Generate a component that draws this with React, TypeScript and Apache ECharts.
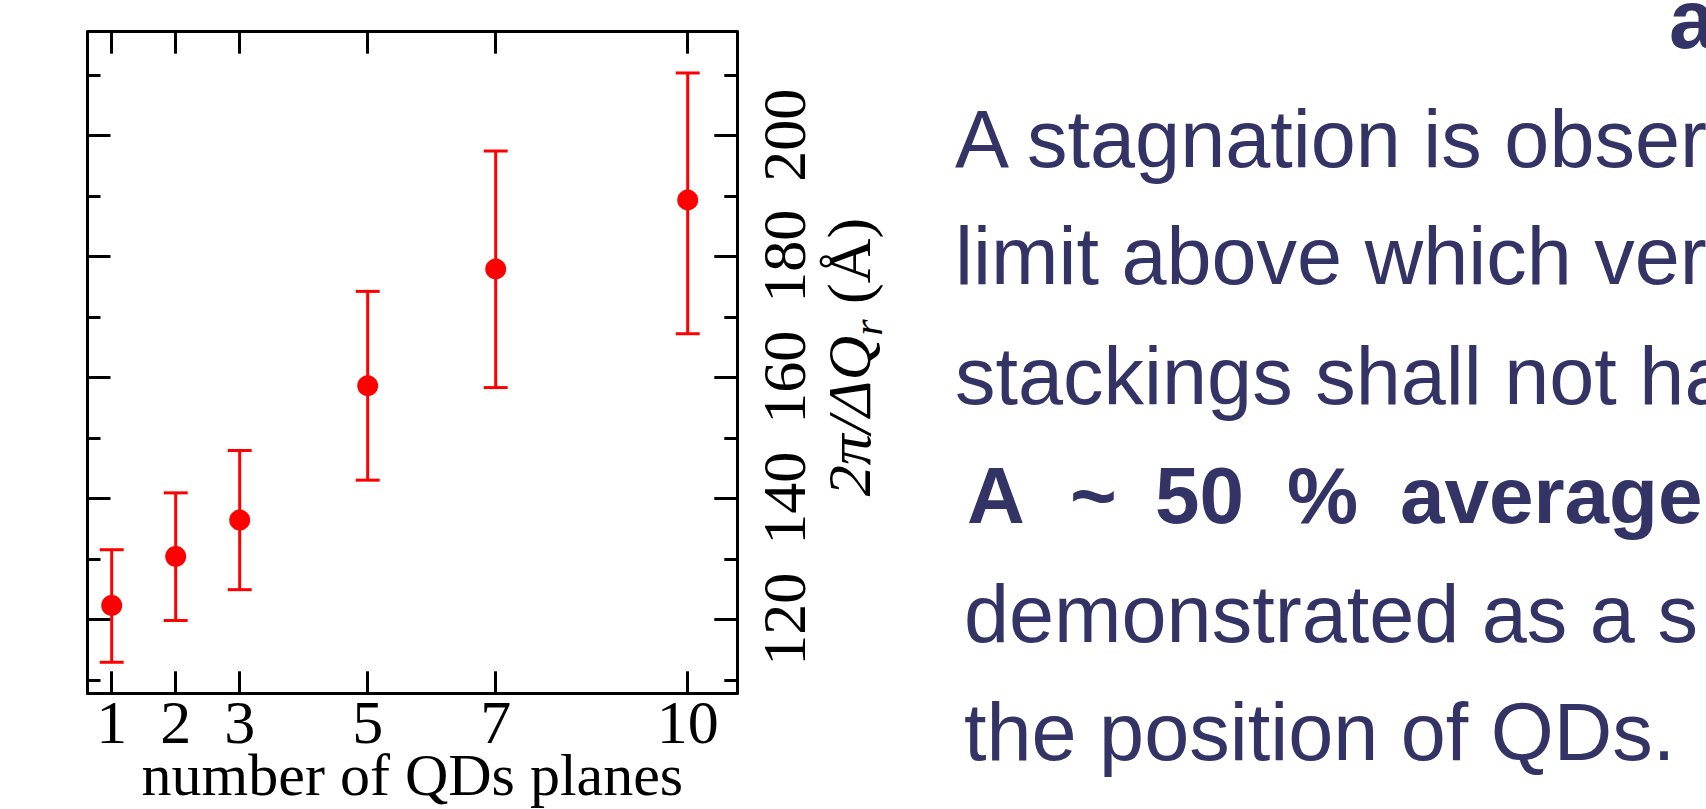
import React, { useEffect, useRef } from "react";
import * as echarts from "echarts";

// ---- data ----
const planes = [1, 2, 3, 5, 7, 10];
const period = [122.3, 130.4, 136.4, 158.6, 177.9, 189.3];
const errLow = [112.9, 119.8, 124.9, 143.0, 158.3, 167.2];
const errHigh = [131.5, 140.9, 147.9, 174.2, 197.4, 210.3];

const xTicks = [1, 2, 3, 5, 7, 10];
const yMajorTicks = [120, 140, 160, 180, 200];
const yMinorTicks = [110, 130, 150, 170, 190, 210];

const xName = "number of QDs planes";
const yName = "{i|2π/ΔQ}{s|r}{n| (Å)}";

const paragraphLines = [
  "A stagnation is obser",
  "limit above which ver",
  "stackings shall not ha",
];
const boldWords = ["A", "~", "50", "%", "average"];
const tailLines = ["demonstrated as a s", "the position of QDs."];
const headerFragment = "a";

const SERIF = "'Liberation Serif', 'Times New Roman', serif";
const SANS = "'Liberation Sans', Arial, sans-serif";
const NAVY = "#333366";

export default function App() {
  const ref = useRef<HTMLDivElement | null>(null);

  useEffect(() => {
    if (!ref.current) return;
    const chart = echarts.init(ref.current, undefined, { renderer: "svg" });

    const yMin = 107.77;
    const yMax = 217.12;
    const xMin = 0.622;
    const xMax = 10.775;

    const axisLineStyle = { color: "#000", width: 3 };

    const yBase = (position: string, ticks: number[], len: number, showLine: boolean, showLabel: boolean) => ({
      type: "value",
      position,
      min: yMin,
      max: yMax,
      offset: 0,
      axisLine: { show: showLine, onZero: false, lineStyle: axisLineStyle },
      axisTick: {
        show: true,
        inside: true,
        length: len,
        customValues: ticks,
        lineStyle: { color: "#000", width: 3 },
      },
      axisLabel: showLabel
        ? {
            show: true,
            customValues: yMajorTicks,
            rotate: 90,
            margin: 22,
            color: "#000",
            fontFamily: SERIF,
            fontSize: 62,
            lineHeight: 50,
          }
        : { show: false },
      splitLine: { show: false },
    });

    const xBase = (position: string, showLabel: boolean) => ({
      type: "value",
      position,
      min: xMin,
      max: xMax,
      axisLine: { show: true, onZero: false, lineStyle: axisLineStyle },
      axisTick: {
        show: true,
        inside: true,
        length: 22,
        customValues: xTicks,
        lineStyle: { color: "#000", width: 3 },
      },
      axisLabel: showLabel
        ? {
            show: true,
            customValues: xTicks,
            margin: 7,
            color: "#000",
            fontFamily: SERIF,
            fontSize: 62,
            lineHeight: 44,
          }
        : { show: false },
      splitLine: { show: false },
    });

    const xBottom: any = xBase("bottom", true);
    xBottom.name = xName;
    xBottom.nameLocation = "middle";
    xBottom.nameGap = 57;
    xBottom.nameMoveOverlap = false;
    xBottom.nameTextStyle = { color: "#000", fontFamily: SERIF, fontSize: 60, lineHeight: 50 };

    const yRight: any = yBase("right", yMajorTicks, 23, true, true);
    yRight.name = yName;
    yRight.nameLocation = "middle";
    yRight.nameRotate = 90;
    yRight.nameGap = 72;
    yRight.nameMoveOverlap = false;
    yRight.nameTextStyle = {
      color: "#000",
      fontFamily: SERIF,
      fontSize: 62,
      padding: [0, 0, 0, 11],
      rich: {
        i: { fontFamily: SERIF, fontStyle: "italic", fontSize: 62, color: "#000" },
        s: { fontFamily: SERIF, fontStyle: "italic", fontSize: 42, color: "#000", verticalAlign: "bottom", padding: [38, 0, 0, 0] },
        n: { fontFamily: SERIF, fontSize: 62, color: "#000" },
      },
    };

    const boldX = [967, 1070, 1155, 1287, 1400];

    const graphics: any[] = [];
    paragraphLines.forEach((t, i) => {
      graphics.push({
        type: "text",
        x: 955,
        y: [139, 256, 376][i],
        style: { text: t, font: `81px ${SANS}`, fill: NAVY, verticalAlign: "middle", align: "left" },
      });
    });
    boldWords.forEach((t, i) => {
      graphics.push({
        type: "text",
        x: boldX[i],
        y: 495,
        style: { text: t, font: `bold 80px ${SANS}`, fill: NAVY, verticalAlign: "middle", align: "left" },
      });
    });
    tailLines.forEach((t, i) => {
      graphics.push({
        type: "text",
        x: 964,
        y: [614, 732][i],
        style: { text: t, font: `81px ${SANS}`, fill: NAVY, verticalAlign: "middle", align: "left" },
      });
    });
    graphics.push({
      type: "text",
      x: 1669,
      y: 19,
      style: { text: headerFragment, font: `bold 84px ${SANS}`, fill: NAVY, verticalAlign: "middle", align: "left" },
    });

    chart.setOption({
      animation: false,
      backgroundColor: "#fff",
      grid: {
        left: 87.5,
        top: 31.7,
        width: 649.8,
        height: 661.6,
        outerBoundsMode: "none",
        containLabel: false,
      },
      xAxis: [xBottom, xBase("top", false)],
      yAxis: [
        yBase("left", yMajorTicks, 23, true, false),
        yBase("left", yMinorTicks, 13, false, false),
        yRight,
        yBase("right", yMinorTicks, 13, false, false),
      ],
      graphic: graphics,
      series: [
        {
          type: "custom",
          xAxisIndex: 0,
          yAxisIndex: 0,
          z: 2,
          data: planes.map((p, i) => [p, errLow[i], errHigh[i]]),
          encode: { x: 0, y: [1, 2] },
          renderItem: (params: any, api: any) => {
            const x = api.value(0);
            const lo = api.coord([x, api.value(1)]);
            const hi = api.coord([x, api.value(2)]);
            const w = 12;
            const st = { stroke: "#ff0000", lineWidth: 3 };
            return {
              type: "group",
              children: [
                { type: "line", shape: { x1: lo[0], y1: lo[1], x2: hi[0], y2: hi[1] }, style: st },
                { type: "line", shape: { x1: lo[0] - w, y1: lo[1], x2: lo[0] + w, y2: lo[1] }, style: st },
                { type: "line", shape: { x1: hi[0] - w, y1: hi[1], x2: hi[0] + w, y2: hi[1] }, style: st },
              ],
            };
          },
        },
        {
          type: "scatter",
          xAxisIndex: 0,
          yAxisIndex: 0,
          z: 3,
          symbol: "circle",
          symbolSize: 21,
          itemStyle: { color: "#ff0000", opacity: 1 },
          data: planes.map((p, i) => [p, period[i]]),
        },
      ],
    });

    return () => {
      chart.dispose();
    };
  }, []);

  return (
    <div
      ref={ref}
      style={{ position: "fixed", left: 0, top: 0, width: 1706, height: 809, background: "#fff", overflow: "hidden" }}
    />
  );
}
